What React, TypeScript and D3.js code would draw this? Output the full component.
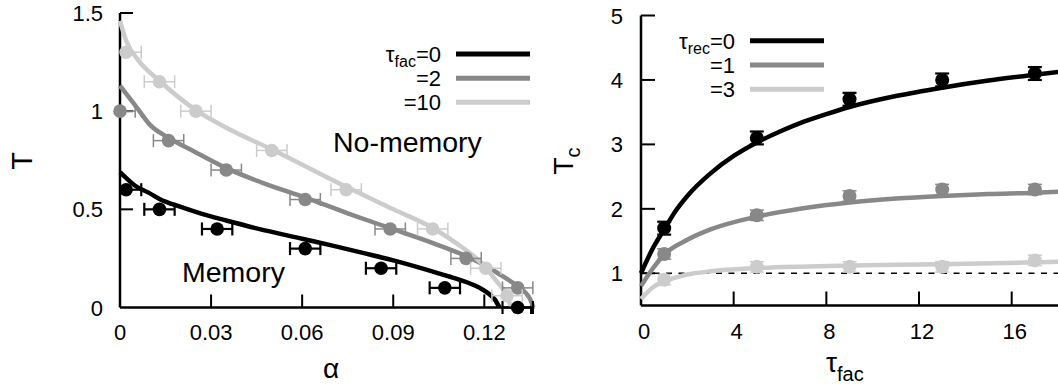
import React from "react";
import * as d3 from "d3";

const W = 1058;
const H = 390;
const FONT = "'Liberation Sans', Arial, Helvetica, sans-serif";

// ---- left panel: T vs alpha ----
const alphaTicks = [0, 0.03, 0.06, 0.09, 0.12];
const alphaTickLabels = ["0", "0.03", "0.06", "0.09", "0.12"];
const tTicks = [0, 0.5, 1, 1.5];
const tTickLabels = ["0", "0.5", "1", "1.5"];
const facLegend = ["=0", "=2", "=10"];
const shades = ["#000000", "#888888", "#cccccc"];

// theory curves (alpha, T)
const curveFac0: [number, number][] = [
  [0, 0.69], [0.002, 0.66], [0.005, 0.62], [0.0094, 0.585], [0.013, 0.553],
  [0.02, 0.512], [0.027, 0.477], [0.035, 0.443], [0.045, 0.403], [0.06, 0.35],
  [0.07, 0.315], [0.08, 0.278], [0.09, 0.24], [0.1, 0.197], [0.108, 0.16],
  [0.114, 0.13], [0.1185, 0.1], [0.1215, 0.07], [0.1235, 0.04], [0.125, 0.0],
];
const curveFac2: [number, number][] = [
  [0, 1.13], [0.005, 1.03], [0.0099, 0.93], [0.0159, 0.865], [0.025, 0.79],
  [0.035, 0.71], [0.047, 0.635], [0.061, 0.56], [0.075, 0.48], [0.0888, 0.405],
  [0.1033, 0.327], [0.114, 0.262], [0.1208, 0.21], [0.1253, 0.166],
  [0.1308, 0.11], [0.1352, 0.04], [0.1362, 0.0],
];
const curveFac10: [number, number][] = [
  [0, 1.46], [0.002, 1.36], [0.006, 1.26], [0.013, 1.155], [0.025, 1.005],
  [0.037, 0.9], [0.05, 0.805], [0.0745, 0.615], [0.09, 0.5], [0.103, 0.405],
  [0.111, 0.325], [0.1165, 0.262], [0.12, 0.21], [0.1242, 0.131],
  [0.1275, 0.057], [0.1288, 0.0],
];

// simulation points
const fac0Alpha = [0.002, 0.013, 0.032, 0.061, 0.086, 0.107, 0.131];
const fac0T = [0.6, 0.5, 0.4, 0.3, 0.2, 0.1, 0];
const fac2Alpha = [0, 0.016, 0.035, 0.061, 0.089, 0.114, 0.131];
const fac2T = [1.0, 0.85, 0.7, 0.55, 0.4, 0.25, 0.1];
const fac10Alpha = [0.002, 0.013, 0.025, 0.05, 0.0745, 0.103, 0.1205, 0.1275];
const fac10T = [1.3, 1.15, 1.0, 0.8, 0.6, 0.4, 0.2, 0.06];
const alphaErr = 0.005;

// ---- right panel: Tc vs tau_fac ----
const tauTicks = [0, 4, 8, 12, 16];
const tcTicks = [1, 2, 3, 4, 5];
const recLegend = ["=0", "=1", "=3"];

const curveRec0: [number, number][] = [
  [0, 1.0], [0.5, 1.38], [1, 1.68], [1.5, 1.97], [2, 2.2], [3, 2.55],
  [4, 2.82], [5, 3.03], [6, 3.2], [7, 3.35], [8, 3.47], [9, 3.58],
  [11, 3.75], [13, 3.88], [15, 3.99], [17, 4.08], [18.2, 4.13],
];
const curveRec1: [number, number][] = [
  [0, 0.8], [0.5, 1.07], [1, 1.29], [2, 1.52], [3, 1.68], [5, 1.88],
  [7, 2.01], [9, 2.1], [11, 2.16], [13, 2.2], [15, 2.23], [17, 2.25], [18.2, 2.27],
];
const curveRec3: [number, number][] = [
  [0, 0.6], [0.5, 0.78], [1, 0.87], [2, 0.98], [3, 1.03], [5, 1.08],
  [9, 1.12], [13, 1.14], [17, 1.17], [18.2, 1.18],
];

const tauPts = [1, 5, 9, 13, 17];
const rec0Tc = [1.7, 3.1, 3.7, 4.0, 4.1];
const rec1Tc = [1.3, 1.9, 2.2, 2.3, 2.3];
const rec3Tc = [0.9, 1.1, 1.1, 1.1, 1.2];
const tcErr = [0.1, 0.08, 0.08];

export default function App() {
  // left scales
  const xL = d3.scaleLinear().domain([0, 0.12]).range([120, 484.3]);
  const yL = d3.scaleLinear().domain([0, 1.5]).range([307.5, 13]);
  const alphaMax = 0.1365;
  // right scales
  const xR = d3.scaleLinear().domain([0, 16]).range([641, 1011.7]);
  const yR = d3.scaleLinear().domain([0.5, 5]).range([305.5, 15.5]);
  const tauMax = 18.3;

  const lineL = d3.line<[number, number]>()
    .x((d) => xL(d[0]))
    .y((d) => yL(d[1]))
    .curve(d3.curveMonotoneX);
  const lineR = d3.line<[number, number]>()
    .x((d) => xR(d[0]))
    .y((d) => yR(d[1]))
    .curve(d3.curveMonotoneX);

  const leftCurves = [curveFac0, curveFac2, curveFac10];
  const leftPts = [
    { a: fac0Alpha, t: fac0T },
    { a: fac2Alpha, t: fac2T },
    { a: fac10Alpha, t: fac10T },
  ];
  const rightCurves = [curveRec0, curveRec1, curveRec3];
  const rightPts = [rec0Tc, rec1Tc, rec3Tc];
  const errW = [2.2, 1.5, 1.5];

  const tick = 13;

  return (
    <svg
      width={W}
      height={H}
      style={{ position: "absolute", left: 0, top: 0, background: "#fff" }}
      fontFamily={FONT}
    >
      <rect width={W} height={H} fill="#fff" />

      {/* ===== left panel ===== */}
      <g>
        {/* axes */}
        <line x1={xL(0)} x2={xL(alphaMax)} y1={yL(0)} y2={yL(0)} stroke="#000" strokeWidth={2.5} />
        <line x1={xL(0)} x2={xL(0)} y1={yL(0)} y2={yL(1.5)} stroke="#000" strokeWidth={2.5} />
        <line x1={531} x2={531} y1={yL(0) - 6.5} y2={yL(0) + 6.5} stroke="#000" strokeWidth={2} />
        {alphaTicks.map((v, i) => (
          <g key={"ax" + i}>
            {i > 0 && (
              <line x1={xL(v)} x2={xL(v)} y1={yL(0)} y2={yL(0) - tick} stroke="#000" strokeWidth={2} />
            )}
            <text x={xL(v)} y={340} fontSize={22} textAnchor="middle">
              {alphaTickLabels[i]}
            </text>
          </g>
        ))}
        {tTicks.map((v, i) => (
          <g key={"ay" + i}>
            {i > 0 && (
              <line x1={xL(0)} x2={xL(0) + tick} y1={yL(v)} y2={yL(v)} stroke="#000" strokeWidth={2} />
            )}
            <text x={103} y={yL(v) + 8} fontSize={22} textAnchor="end">
              {tTickLabels[i]}
            </text>
          </g>
        ))}
        <text x={331} y={378} fontSize={28} textAnchor="middle">α</text>
        <text transform="translate(32,161) rotate(-90)" fontSize={29} textAnchor="middle">T</text>

        {/* curves */}
        {leftCurves.map((c, i) => (
          <path key={"lc" + i} d={lineL(c) || ""} fill="none" stroke={shades[i]} strokeWidth={4.5} />
        ))}

        {/* points with horizontal error bars */}
        {leftPts.map((s, i) => (
          <g key={"lp" + i}>
            {s.a.map((a, j) => {
              const lo = Math.max(0, a - alphaErr);
              const hi = a + alphaErr;
              const y = yL(s.t[j]);
              return (
                <g key={j} stroke={shades[i]} strokeWidth={errW[i]}>
                  <line x1={xL(lo)} x2={xL(hi)} y1={y} y2={y} />
                  {a - alphaErr > 0 && <line x1={xL(lo)} x2={xL(lo)} y1={y - 6.5} y2={y + 6.5} />}
                  <line x1={xL(hi)} x2={xL(hi)} y1={y - 6.5} y2={y + 6.5} />
                  <circle cx={xL(a)} cy={y} r={6.8} fill={shades[i]} stroke="none" />
                </g>
              );
            })}
          </g>
        ))}

        {/* legend */}
        {facLegend.map((lab, i) => {
          const y = [54, 78.3, 102.3][i];
          return (
            <g key={"lg" + i}>
              <text x={441} y={y + 8} fontSize={22} textAnchor="end">
                {i === 0 && (
                  <>
                    τ<tspan fontSize={16} dy={5}>fac</tspan>
                    <tspan dy={-5}>{lab}</tspan>
                  </>
                )}
                {i > 0 && lab}
              </text>
              <line x1={456} x2={530} y1={y} y2={y} stroke={shades[i]} strokeWidth={5} />
            </g>
          );
        })}

        <text x={333} y={152} fontSize={28.5}>No-memory</text>
        <text x={182} y={282} fontSize={28.5}>Memory</text>
      </g>

      {/* ===== right panel ===== */}
      <g>
        <line x1={xR(0)} x2={xR(tauMax)} y1={yR(0.5)} y2={yR(0.5)} stroke="#000" strokeWidth={2.5} />
        <line x1={xR(0)} x2={xR(0)} y1={yR(0.5)} y2={yR(5)} stroke="#000" strokeWidth={2.5} />
        {tauTicks.map((v, i) => (
          <g key={"rx" + i}>
            {i > 0 && (
              <line x1={xR(v)} x2={xR(v)} y1={yR(0.5)} y2={yR(0.5) - 14} stroke="#000" strokeWidth={2} />
            )}
            <text x={xR(v) + 3} y={339} fontSize={22} textAnchor="middle">{v}</text>
          </g>
        ))}
        {tcTicks.map((v, i) => (
          <g key={"ry" + i}>
            <line x1={xR(0)} x2={xR(0) + 14} y1={yR(v)} y2={yR(v)} stroke="#000" strokeWidth={2} />
            <text x={623} y={yR(v) + 8} fontSize={22} textAnchor="end">{v}</text>
          </g>
        ))}
        <text transform="translate(573,161) rotate(-90)" fontSize={28} textAnchor="middle">
          T<tspan fontSize={20} dy={7}>c</tspan>
        </text>
        <text x={826} y={372} fontSize={28}>
          τ<tspan fontSize={20} dy={9}>fac</tspan>
        </text>

        {/* Tc = 1 reference */}
        <line
          x1={xR(0)}
          x2={xR(tauMax)}
          y1={yR(1)}
          y2={yR(1)}
          stroke="#000"
          strokeWidth={1.5}
          strokeDasharray="6,6.5"
        />

        {rightCurves.map((c, i) => (
          <path key={"rc" + i} d={lineR(c) || ""} fill="none" stroke={shades[i]} strokeWidth={4.5} />
        ))}

        {rightPts.map((vals, i) => (
          <g key={"rp" + i}>
            {vals.map((v, j) => {
              const x = xR(tauPts[j]);
              const e = tcErr[i];
              return (
                <g key={j} stroke={shades[i]} strokeWidth={errW[i]}>
                  <line x1={x} x2={x} y1={yR(v - e)} y2={yR(v + e)} />
                  <line x1={x - 7} x2={x + 7} y1={yR(v + e)} y2={yR(v + e)} />
                  <line x1={x - 7} x2={x + 7} y1={yR(v - e)} y2={yR(v - e)} />
                  <circle cx={x} cy={yR(v)} r={7} fill={shades[i]} stroke="none" />
                </g>
              );
            })}
          </g>
        ))}

        {recLegend.map((lab, i) => {
          const y = [40.7, 65, 89.3][i];
          return (
            <g key={"rg" + i}>
              <text x={735} y={y + 8} fontSize={22} textAnchor="end">
                {i === 0 && (
                  <>
                    τ<tspan fontSize={16} dy={5}>rec</tspan>
                    <tspan dy={-5}>{lab}</tspan>
                  </>
                )}
                {i > 0 && lab}
              </text>
              <line x1={750} x2={824} y1={y} y2={y} stroke={shades[i]} strokeWidth={5} />
            </g>
          );
        })}
      </g>
    </svg>
  );
}
